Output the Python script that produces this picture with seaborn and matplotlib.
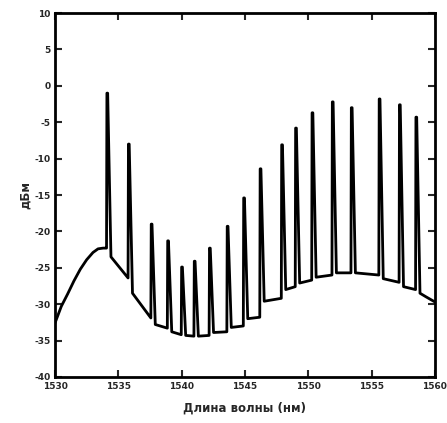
import numpy as np
import pandas as pd
import matplotlib
matplotlib.use("Agg")
import matplotlib.pyplot as plt
import seaborn as sns

# ---- data ----
# rising shoulder at the left (before first line)
lead_wl = [1530.0, 1530.5, 1531.0, 1531.5, 1532.0, 1532.5, 1533.0, 1533.4, 1533.8, 1534.05]
lead_db = [-32.6, -30.3, -28.6, -26.8, -25.2, -23.9, -22.9, -22.4, -22.3, -22.3]

# laser lines: wavelength, peak level, floor just before and just after
peak_wl = [1534.1, 1535.8, 1537.6, 1538.9, 1540.0, 1541.0, 1542.2, 1543.6, 1544.9,
           1546.2, 1547.9, 1549.0, 1550.3, 1551.9, 1553.4, 1555.6, 1557.2, 1558.5]
peak_db = [-1.0, -8.0, -19.0, -21.3, -24.9, -24.1, -22.3, -19.3, -15.4,
           -11.4, -8.1, -5.8, -3.7, -2.2, -3.0, -1.8, -2.6, -4.3]
floor_pre = [-22.3, -26.4, -31.9, -33.3, -34.2, -34.4, -34.3, -33.8, -33.0,
             -31.8, -29.2, -27.6, -26.7, -26.0, -25.7, -26.0, -27.0, -28.0]
floor_post = [-23.5, -28.5, -32.8, -33.8, -34.3, -34.4, -33.9, -33.2, -32.0,
              -29.6, -28.0, -27.1, -26.3, -25.7, -25.7, -26.5, -27.6, -28.5]

# tail at the right
tail_wl = [1559.3, 1559.8, 1560.0]
tail_db = [-29.0, -29.5, -29.7]

x_ticks = [1530, 1535, 1540, 1545, 1550, 1555, 1560]
y_ticks = [-40, -35, -30, -25, -20, -15, -10, -5, 0, 5, 10]

# ---- build polyline vertices ----
xs = list(lead_wl)
ys = list(lead_db)
for w, p, a, b in zip(peak_wl, peak_db, floor_pre, floor_post):
    xs += [w - 0.03, w, w + 0.06, w + 0.32]
    ys += [a, p, p, b]
xs += tail_wl
ys += tail_db
df = pd.DataFrame({"wl": xs, "db": ys})

sns.set_style("ticks")
plt.rcParams["font.family"] = ["DejaVu Sans"]

fig = plt.figure(figsize=(4.47, 4.23), dpi=100)
ax = fig.add_axes([0.123, 0.109, 0.850, 0.860])

sns.lineplot(data=df, x="wl", y="db", sort=False, estimator=None,
             color="black", linewidth=2.0, ax=ax)

ax.set_xlim(1530, 1560)
ax.set_ylim(-40, 10)
ax.set_xticks(x_ticks)
ax.set_yticks(y_ticks)
ax.set_xticklabels([str(t) for t in x_ticks], fontsize=6.5, fontweight="bold")
ax.set_yticklabels([str(t) for t in y_ticks], fontsize=6.5, fontweight="bold")
ax.tick_params(direction="in", top=True, right=True, length=5, width=1.5)
ax.tick_params(axis="x", pad=4)
ax.tick_params(axis="y", pad=3)
for s in ax.spines.values():
    s.set_linewidth(2.0)
    s.set_color("black")
    s.set_visible(True)

ax.set_xlabel("Длина волны (нм)", fontsize=8.5, fontweight="bold", labelpad=7)
ax.set_ylabel("дБм", fontsize=8.5, fontweight="bold", labelpad=2)

fig.savefig("out.png", dpi=100)
